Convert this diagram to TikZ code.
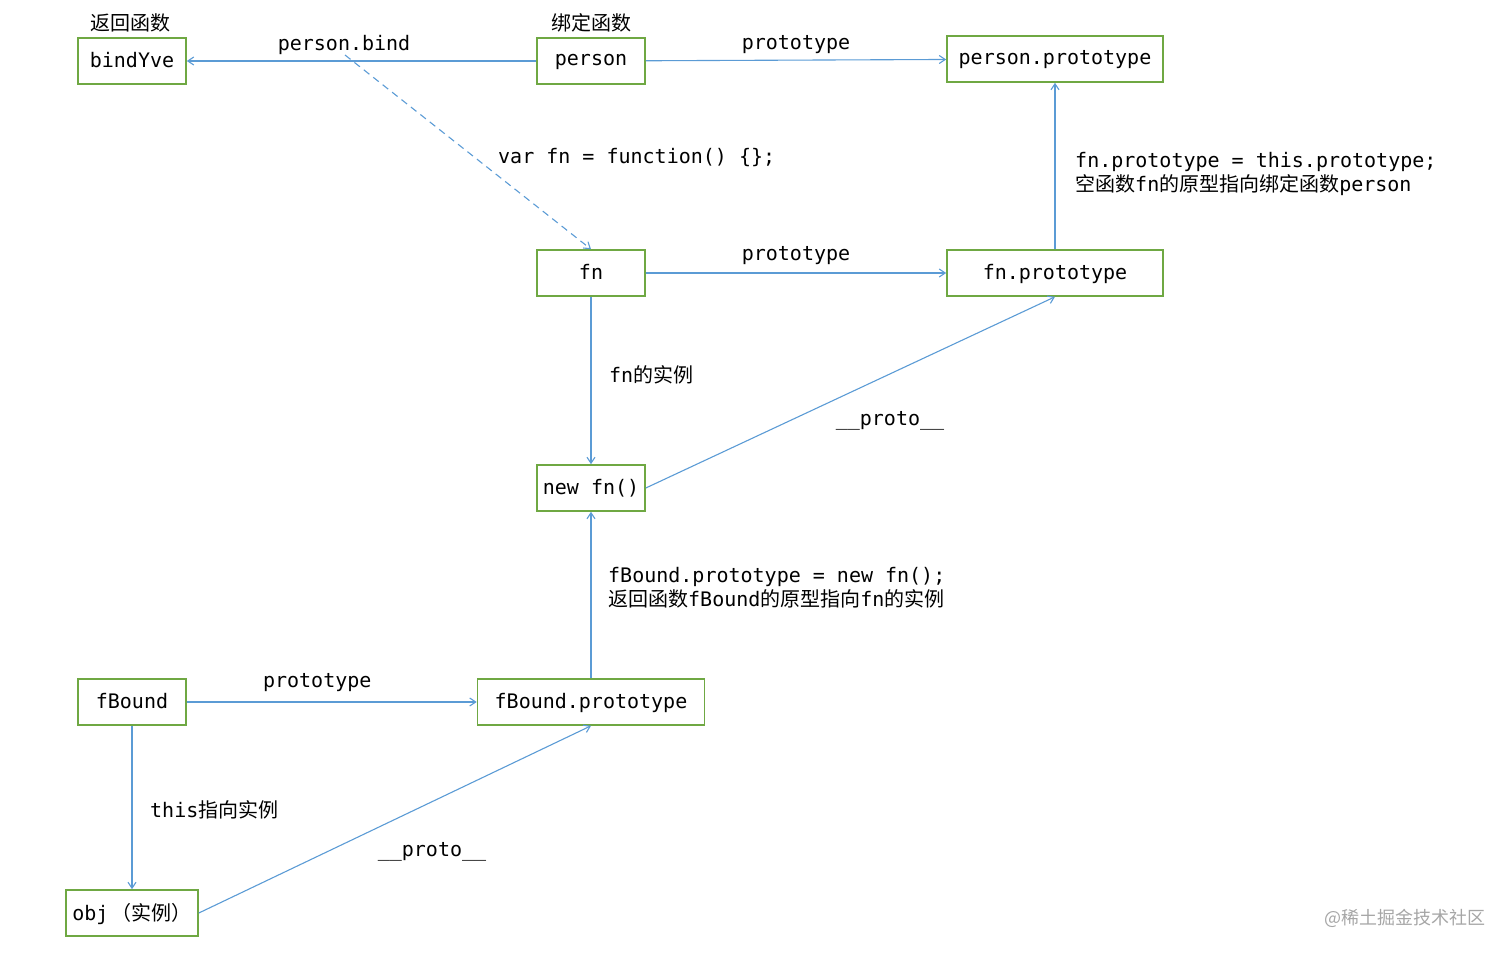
\documentclass[tikz,border=0pt]{standalone}
\usepackage{fontspec}
\setmainfont{DejaVu Sans Mono}
\newfontfamily\cjk{Noto Sans CJK SC}
\usetikzlibrary{arrows.meta}
\definecolor{gbox}{HTML}{6FA843}
\definecolor{lblue}{HTML}{5B9BD5}
\begin{document}
\begin{tikzpicture}[x=1pt,y=-1pt,
 box/.style={draw=gbox,line width=1.6pt,minimum height=46pt,inner sep=0pt,text depth=3pt,font=\fontsize{20}{24}\selectfont},
 ar/.style={draw=lblue,line width=1.1pt,-{Straight Barb[length=6pt,width=8pt]}},
 lb/.style={font=\fontsize{20}{24}\selectfont,inner sep=0pt}]
\useasboundingbox (0,0) rectangle (1512,954);
\node[box,minimum width=108pt] (bind) at (132,61) {bindYve};
\node[box,minimum width=108pt] (person) at (591,61) {person};
\node[box,minimum width=216pt] (pp) at (1055,59) {person.prototype};
\node[box,minimum width=108pt] (fn) at (591,273) {fn};
\node[box,minimum width=216pt] (fp) at (1055,273) {fn.prototype};
\node[box,minimum width=108pt] (nf) at (591,488) {new fn()};
\node[box,minimum width=108pt] (fb) at (132,702) {fBound};
\node[box,minimum width=227pt] (fbp) at (591,702) {fBound.prototype};
\node[box,minimum width=132pt] (obj) at (132,913) {obj\,{\cjk（实例）}};
\node[lb] (t1) at (130,23) {\cjk 返回函数};
\node[lb] (t2) at (591,23) {\cjk 绑定函数};
\draw[ar] (person) -- (bind) node[lb,pos=0.55,above=6pt] (l1) {person.bind};
\coordinate (ds) at (345,55);
\draw[ar,dash pattern=on 7pt off 5pt] (ds) -- (fn.north);
\node[lb,anchor=west] (l2) at (498,158) {var fn = function() \{\};};
\draw[ar] (person) -- (pp) node[lb,midway,above=6pt] (l3) {prototype};
\draw[ar] (fn) -- (fp) node[lb,midway,above=8pt] (l4) {prototype};
\draw[ar] (fp) -- (pp);
\node[lb,anchor=west,align=left] (l5) at (1075,174) {fn.prototype = this.prototype;\\{\cjk 空函数}fn{\cjk 的原型指向绑定函数}person};
\draw[ar] (fn) -- (nf);
\node[lb,anchor=west] (l6) at (609,375) {fn{\cjk 的实例}};
\draw[ar] (nf.east) -- (fp.south);
\node[lb] (l7) at (890,421) {\_\_proto\_\_};
\draw[ar] (fbp) -- (nf);
\node[lb,anchor=west,align=left] (l8) at (608,588) {fBound.prototype = new fn();\\{\cjk 返回函数}fBound{\cjk 的原型指向}fn{\cjk 的实例}};
\draw[ar] (fb) -- (fbp) node[lb,pos=0.45,above=10pt] (l9) {prototype};
\draw[ar] (fb) -- (obj);
\node[lb,anchor=west] (l10) at (150,810) {this{\cjk 指向实例}};
\draw[ar] (obj.east) -- (fbp.south);
\node[lb] (l11) at (432,852) {\_\_proto\_\_};
\node[font=\cjk\fontsize{18}{20}\selectfont,text=black!35,inner sep=0pt] (wm) at (1405,918) {@稀土掘金技术社区};
\end{tikzpicture}
\end{document}
